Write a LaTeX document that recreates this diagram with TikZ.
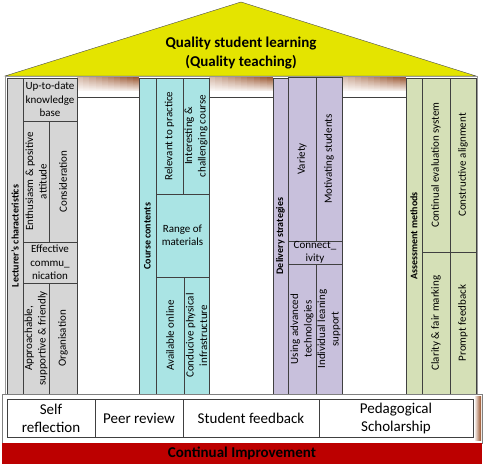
\documentclass[tikz,border=0pt]{standalone}
\usepackage{fontspec}
\setmainfont{Carlito}
\definecolor{roofyellow}{RGB}{228,228,0}
\definecolor{lecgray}{RGB}{214,214,214}
\definecolor{crscyan}{RGB}{170,228,228}
\definecolor{dellav}{RGB}{200,192,220}
\definecolor{assolive}{RGB}{213,224,183}
\definecolor{improvred}{RGB}{188,0,0}
\definecolor{beambrown}{RGB}{150,78,38}
\begin{document}
\begin{tikzpicture}[x=1pt,y=-1pt,
    sz/.style 2 args={minimum width=#1pt, minimum height=#2pt}]
  \tikzstyle{cell}=[draw=black!75, inner sep=0pt, align=center, font=\fontsize{11}{13.5}\selectfont]
  \tikzstyle{vert}=[cell, rotate=90]
  \tikzstyle{title}=[cell, rotate=90, font=\bfseries\fontsize{10}{12}\selectfont]
  \tikzstyle{base}=[cell, fill=white, font=\fontsize{15}{18}\selectfont]
  \tikzstyle{lec}=[fill=lecgray]
  \tikzstyle{crs}=[fill=crscyan]
  \tikzstyle{del}=[fill=dellav]
  \tikzstyle{ass}=[fill=assolive]
  \useasboundingbox (0,0) rectangle (485,466);

  % roof
  \draw[draw=black!70, fill=roofyellow] (5,76) -- (241,2) -- (476,76) -- cycle;
  \node[align=center, font=\bfseries\fontsize{15}{19}\selectfont] (roof) at (241,53)
    {Quality student learning\\(Quality teaching)};

  % building and beams (brown shadow, darkest top right)
  \draw[draw=black!40, fill=white] (5,76) rectangle (477,394);
  \foreach \xa/\xb in {77/139, 209/273, 342/406} {
    \foreach \i in {0,...,13} {
      \foreach \j in {0,...,9} {
        \pgfmathtruncatemacro\pc{(15-\i)/15*(40+6*\j)}
        \pgfmathsetmacro\xl{\xa+(\xb-\xa)*\j/10}
        \pgfmathsetmacro\xr{\xa+(\xb-\xa)*(\j+1)/10}
        \fill[beambrown!\pc!white] (\xl,77+\i) rectangle (\xr+0.4,78.4+\i);
      }
    }
    \draw[black!75] (\xa,97) -- (\xb,97);
  }

  % lecturer's characteristics
  \node[title, lec, sz={316}{16}] (lectitle) at (15,236) {Lecturer’s characteristics};
  \node[cell, lec, sz={54}{43}] (uptodate) at (50,99.5) {Up-to-date\\knowledge\\base};
  \node[vert, lec, sz={121}{26}] (enthus) at (36,181.5) {Enthusiasm \& positive\\attitude};
  \node[vert, lec, sz={121}{28}] (consid) at (63,181.5) {Consideration};
  \node[cell, lec, sz={54}{41}] (effcomm) at (50,262.5) {Effective\\commu\_\\nication};
  \node[vert, lec, sz={111}{26}] (approach) at (36,338.5) {Approachable,\\supportive \& friendly};
  \node[vert, lec, sz={111}{28}] (organis) at (63,338.5) {Organisation};

  % course contents
  \node[title, crs, sz={316}{17}] (crstitle) at (147.5,236) {Course contents};
  \node[vert, crs, sz={116}{27}] (relevant) at (169.5,136) {Relevant to practice};
  \node[vert, crs, sz={116}{26}] (interest) at (196,136) {Interesting \&\\challenging course};
  \node[cell, crs, sz={53}{83}] (range) at (182.5,235.5) {Range of\\materials};
  \node[vert, crs, sz={117}{28}] (online) at (170,335.5) {Available online};
  \node[vert, crs, sz={117}{25}] (conducive) at (196.5,335.5) {Conducive physical\\infrastructure};

  % delivery strategies
  \node[title, del, sz={316}{15}] (deltitle) at (280.5,236) {Delivery strategies};
  \node[vert, del, sz={164}{28}] (variety) at (302,159) {Variety};
  \node[vert, del, sz={164}{26}] (motiv) at (329,159) {Motivating students};
  \node[cell, del, sz={54}{23}] (connect) at (315,252.5) {Connect\_\\ivity};
  \node[vert, del, sz={130}{28}] (usingadv) at (302,329) {Using advanced\\technologies};
  \node[vert, del, sz={130}{26}] (indiv) at (329,329) {Individual leaning\\support};

  % assessment methods
  \node[title, ass, sz={316}{16}] (asstitle) at (414,236) {Assessment methods};
  \node[vert, ass, sz={174}{28}] (contev) at (436,165) {Continual evaluation system};
  \node[vert, ass, sz={174}{26}] (constr) at (463,165) {Constructive alignment};
  \node[vert, ass, sz={142}{28}] (clarity) at (436,323) {Clarity \& fair marking};
  \node[vert, ass, sz={142}{26}] (prompt) at (463,323) {Prompt feedback};

  % foundation
  \node[draw=black!50, fill=white, sz={480}{49}] (frame) at (242,418.5) {};
  \shade[left color=white, right color=beambrown] (474,396) rectangle (481,440);
  \node[base, sz={88}{38}] (selfref) at (51,418) {Self\\reflection};
  \node[base, sz={88}{38}] (peer) at (139,418) {Peer review};
  \node[base, sz={136}{38}] (stufeed) at (251,418) {Student feedback};
  \node[base, sz={154}{38}] (pedag) at (396,418) {Pedagogical\\Scholarship};
  \node[fill=improvred, sz={480}{21}, inner sep=0pt,
        font=\bfseries\fontsize{15}{17}\selectfont] (contimp) at (242,453.5) {Continual Improvement};
\end{tikzpicture}
\end{document}
